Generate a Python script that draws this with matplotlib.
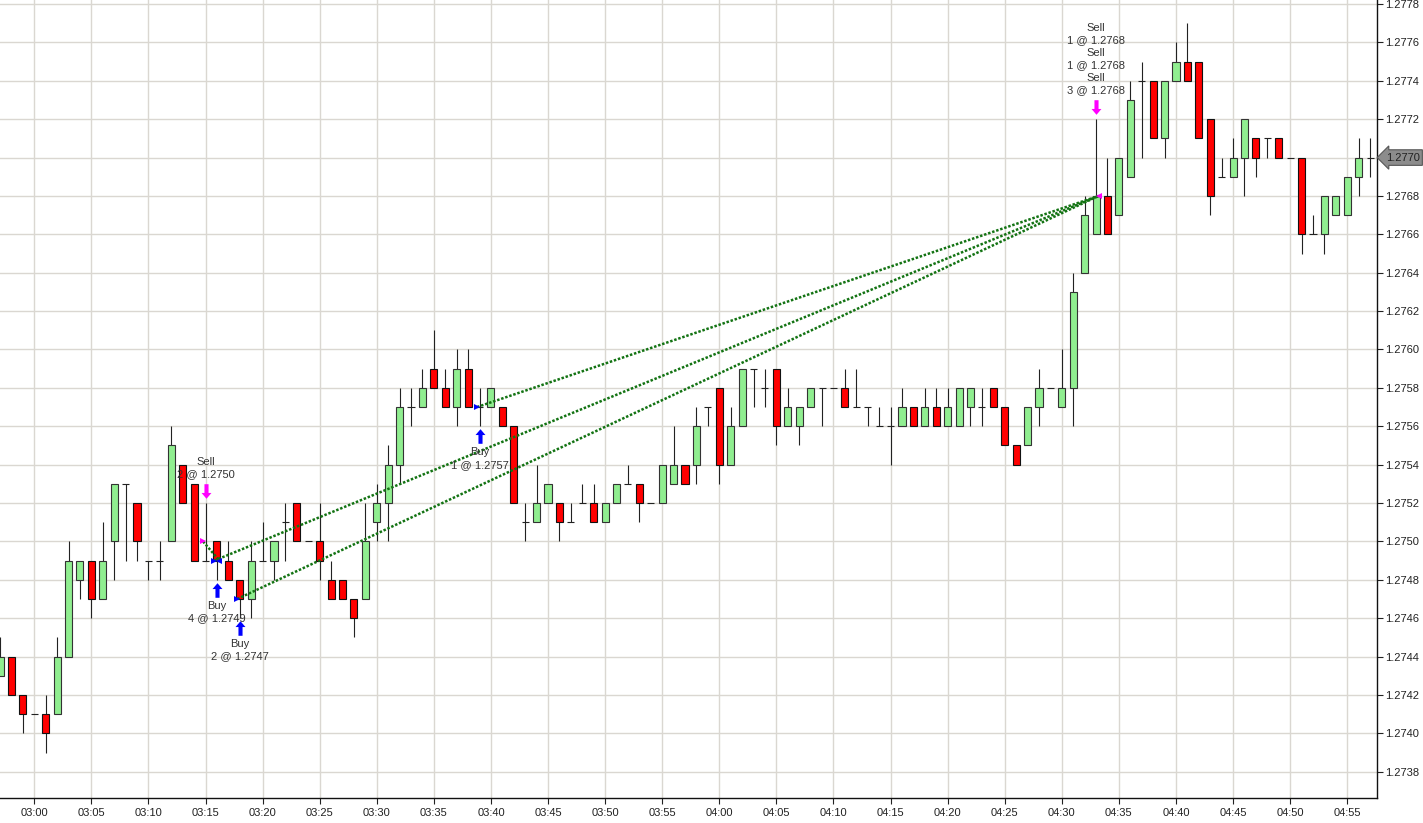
import numpy as np
import pandas as pd
import matplotlib
matplotlib.use('Agg')
import matplotlib.pyplot as plt
import matplotlib.dates as mdates
import matplotlib.transforms as mtransforms
from matplotlib.path import Path

plt.rcParams['font.family'] = ['Liberation Sans', 'DejaVu Sans']
plt.rcParams['font.size'] = 8

# 1-minute bars 02:57 .. 04:57
times = pd.date_range('2012-06-01 02:57', '2012-06-01 04:57', freq='1min')

opens = [1.2743, 1.2744, 1.2742, 1.2741, 1.2741, 1.2741, 1.2744, 1.2748, 1.2749, 1.2747,
         1.2750, 1.2753, 1.2752, 1.2749, 1.2749, 1.2750, 1.2754, 1.2753, 1.2749, 1.2750,
         1.2749, 1.2748, 1.2747, 1.2749, 1.2749, 1.2751, 1.2752, 1.2750, 1.2750, 1.2748,
         1.2748, 1.2747, 1.2747, 1.2751, 1.2752, 1.2754, 1.2757, 1.2757, 1.2759, 1.2758,
         1.2757, 1.2759, 1.2757, 1.2757, 1.2757, 1.2756, 1.2751, 1.2751, 1.2752, 1.2752,
         1.2751, 1.2752, 1.2752, 1.2751, 1.2752, 1.2753, 1.2753, 1.2752, 1.2752, 1.2753,
         1.2754, 1.2754, 1.2757, 1.2758, 1.2754, 1.2756, 1.2759, 1.2758, 1.2759, 1.2756,
         1.2756, 1.2757, 1.2758, 1.2758, 1.2758, 1.2757, 1.2757, 1.2756, 1.2756, 1.2756,
         1.2757, 1.2756, 1.2757, 1.2756, 1.2756, 1.2757, 1.2757, 1.2758, 1.2757, 1.2755,
         1.2755, 1.2757, 1.2758, 1.2757, 1.2758, 1.2764, 1.2766, 1.2768, 1.2767, 1.2769,
         1.2774, 1.2774, 1.2771, 1.2774, 1.2775, 1.2775, 1.2772, 1.2769, 1.2769, 1.2770,
         1.2771, 1.2771, 1.2771, 1.2770, 1.2770, 1.2766, 1.2766, 1.2767, 1.2767, 1.2769,
         1.2770]
highs = [1.2745, 1.2744, 1.2742, 1.2741, 1.2742, 1.2745, 1.2750, 1.2749, 1.2749, 1.2751,
         1.2753, 1.2753, 1.2752, 1.2749, 1.2750, 1.2756, 1.2754, 1.2753, 1.2752, 1.2750,
         1.2750, 1.2748, 1.2750, 1.2751, 1.2750, 1.2752, 1.2752, 1.2750, 1.2752, 1.2749,
         1.2748, 1.2747, 1.2752, 1.2753, 1.2755, 1.2758, 1.2758, 1.2759, 1.2761, 1.2759,
         1.2760, 1.2760, 1.2758, 1.2758, 1.2757, 1.2756, 1.2752, 1.2754, 1.2753, 1.2752,
         1.2752, 1.2753, 1.2753, 1.2752, 1.2753, 1.2754, 1.2753, 1.2752, 1.2754, 1.2756,
         1.2754, 1.2757, 1.2757, 1.2758, 1.2757, 1.2759, 1.2759, 1.2759, 1.2759, 1.2758,
         1.2757, 1.2758, 1.2758, 1.2758, 1.2759, 1.2759, 1.2757, 1.2757, 1.2757, 1.2758,
         1.2757, 1.2758, 1.2758, 1.2758, 1.2758, 1.2758, 1.2758, 1.2758, 1.2757, 1.2755,
         1.2757, 1.2759, 1.2758, 1.2760, 1.2764, 1.2768, 1.2772, 1.2770, 1.2770, 1.2774,
         1.2775, 1.2774, 1.2774, 1.2776, 1.2777, 1.2775, 1.2772, 1.2770, 1.2771, 1.2772,
         1.2771, 1.2771, 1.2771, 1.2770, 1.2770, 1.2767, 1.2768, 1.2768, 1.2769, 1.2771,
         1.2771]
lows = [1.2743, 1.2742, 1.2740, 1.2741, 1.2739, 1.2741, 1.2744, 1.2747, 1.2746, 1.2747,
        1.2748, 1.2749, 1.2749, 1.2748, 1.2748, 1.2750, 1.2752, 1.2749, 1.2749, 1.2748,
        1.2748, 1.2746, 1.2746, 1.2749, 1.2748, 1.2749, 1.2750, 1.2750, 1.2748, 1.2747,
        1.2747, 1.2745, 1.2747, 1.2750, 1.2750, 1.2753, 1.2756, 1.2757, 1.2758, 1.2757,
        1.2756, 1.2757, 1.2756, 1.2757, 1.2756, 1.2752, 1.2750, 1.2751, 1.2752, 1.2750,
        1.2751, 1.2752, 1.2751, 1.2751, 1.2752, 1.2753, 1.2751, 1.2752, 1.2752, 1.2753,
        1.2753, 1.2753, 1.2756, 1.2753, 1.2754, 1.2756, 1.2757, 1.2757, 1.2755, 1.2756,
        1.2755, 1.2757, 1.2756, 1.2758, 1.2757, 1.2757, 1.2756, 1.2756, 1.2754, 1.2756,
        1.2756, 1.2756, 1.2756, 1.2756, 1.2756, 1.2756, 1.2756, 1.2757, 1.2755, 1.2754,
        1.2755, 1.2756, 1.2758, 1.2757, 1.2756, 1.2764, 1.2766, 1.2766, 1.2767, 1.2769,
        1.2770, 1.2771, 1.2770, 1.2774, 1.2774, 1.2771, 1.2767, 1.2769, 1.2769, 1.2768,
        1.2769, 1.2770, 1.2770, 1.2770, 1.2765, 1.2766, 1.2765, 1.2767, 1.2767, 1.2768,
        1.2769]
closes = [1.2744, 1.2742, 1.2741, 1.2741, 1.2740, 1.2744, 1.2749, 1.2749, 1.2747, 1.2749,
          1.2753, 1.2753, 1.2750, 1.2749, 1.2749, 1.2755, 1.2752, 1.2749, 1.2749, 1.2749,
          1.2748, 1.2747, 1.2749, 1.2749, 1.2750, 1.2751, 1.2750, 1.2750, 1.2749, 1.2747,
          1.2747, 1.2746, 1.2750, 1.2752, 1.2754, 1.2757, 1.2757, 1.2758, 1.2758, 1.2757,
          1.2759, 1.2757, 1.2757, 1.2758, 1.2756, 1.2752, 1.2751, 1.2752, 1.2753, 1.2751,
          1.2751, 1.2752, 1.2751, 1.2752, 1.2753, 1.2753, 1.2752, 1.2752, 1.2754, 1.2754,
          1.2753, 1.2756, 1.2757, 1.2754, 1.2756, 1.2759, 1.2759, 1.2758, 1.2756, 1.2757,
          1.2757, 1.2758, 1.2758, 1.2758, 1.2757, 1.2757, 1.2757, 1.2756, 1.2756, 1.2757,
          1.2756, 1.2757, 1.2756, 1.2757, 1.2758, 1.2758, 1.2757, 1.2757, 1.2755, 1.2754,
          1.2757, 1.2758, 1.2758, 1.2758, 1.2763, 1.2767, 1.2768, 1.2766, 1.2770, 1.2773,
          1.2774, 1.2771, 1.2774, 1.2775, 1.2774, 1.2771, 1.2768, 1.2769, 1.2770, 1.2772,
          1.2770, 1.2771, 1.2770, 1.2770, 1.2766, 1.2766, 1.2768, 1.2768, 1.2769, 1.2770,
          1.2770]

# executions
trade_time = ['03:15', '03:16', '03:18', '03:39', '04:33']
trade_side = ['sell', 'buy', 'buy', 'buy', 'sell']
trade_price = [1.2750, 1.2749, 1.2747, 1.2757, 1.2768]
trade_text = ['Sell\n2 @ 1.2750', 'Buy\n4 @ 1.2749', 'Buy\n2 @ 1.2747', 'Buy\n1 @ 1.2757',
              'Sell\n1 @ 1.2768\nSell\n1 @ 1.2768\nSell\n3 @ 1.2768']
# entry -> exit pairs (index into trades)
trade_pairs = [(0, 1), (1, 4), (2, 4), (3, 4)]

last_price = 1.2770
y_ticks = [1.2738, 1.2740, 1.2742, 1.2744, 1.2746, 1.2748, 1.2750, 1.2752, 1.2754, 1.2756,
           1.2758, 1.2760, 1.2762, 1.2764, 1.2766, 1.2768, 1.2770, 1.2772, 1.2774, 1.2776, 1.2778]

W, H = 1423, 823
fig = plt.figure(figsize=(W / 100, H / 100), dpi=100)
ax = fig.add_axes([0, 1 - 798 / H, 1376.7 / W, 798 / H])

x = mdates.date2num(times)
o = np.array(opens); h = np.array(highs); l = np.array(lows); c = np.array(closes)
one_min = 1 / 1440.0
bw = 0.62 * one_min

up = c > o
dn = c < o
eq = c == o
ax.vlines(x, l, h, color='#222222', lw=0.8, zorder=2)
ax.bar(x[up], c[up] - o[up], bw, bottom=o[up], color='#90ee90', edgecolor='#333333', lw=0.8, zorder=3)
ax.bar(x[dn], o[dn] - c[dn], bw, bottom=c[dn], color='#ff0000', edgecolor='#111111', lw=0.8, zorder=3)
ax.hlines(c[eq], x[eq] - bw / 2, x[eq] + bw / 2, color='#222222', lw=0.8, zorder=3)

# arrow markers
up_arrow = Path([(0, 1), (0.68, 0.2), (0.28, 0.2), (0.28, -1), (-0.28, -1), (-0.28, 0.2),
                 (-0.68, 0.2), (0, 1)], closed=True)
down_arrow = Path([(0, -1), (0.68, -0.2), (0.28, -0.2), (0.28, 1), (-0.28, 1), (-0.28, -0.2),
                   (-0.68, -0.2), (0, -1)], closed=True)

# trades
t_idx = [list(times.strftime('%H:%M')).index(t) for t in trade_time]
tx = x[t_idx]
entry_x = tx - 0.22 * one_min
exit_x = tx + 0.22 * one_min
for a, b in trade_pairs:
    ax.plot([entry_x[a], exit_x[b]], [trade_price[a], trade_price[b]],
            color='#137313', lw=1.8, ls=(0, (1, 0.7)), zorder=4)

col = {'buy': '#0000ff', 'sell': '#ff00ff'}
entries = set(a for a, b in trade_pairs)
exits = set(b for a, b in trade_pairs)
for k in range(len(trade_time)):
    cc = col[trade_side[k]]
    if k in entries:
        ax.plot(entry_x[k], trade_price[k], marker='>', color=cc, ms=5, mew=0, zorder=5)
    if k in exits:
        ax.plot(exit_x[k], trade_price[k], marker='<', color=cc, ms=5, mew=0, zorder=5)
    i = t_idx[k]
    if trade_side[k] == 'buy':
        tr = mtransforms.offset_copy(ax.transData, fig=fig, x=0, y=-10, units='dots')
        ax.plot(x[i], l[i], marker=up_arrow, ms=10.5, color=cc, mew=0, transform=tr, zorder=5)
        ax.annotate(trade_text[k], xy=(x[i], l[i]), xytext=(0, -21), textcoords='offset pixels',
                    ha='center', va='top', color='#333333', linespacing=1.3, zorder=6)
    else:
        tr = mtransforms.offset_copy(ax.transData, fig=fig, x=0, y=12, units='dots')
        ax.plot(x[i], h[i], marker=down_arrow, ms=10.5, color=cc, mew=0, transform=tr, zorder=5)
        ax.annotate(trade_text[k], xy=(x[i], h[i]), xytext=(0, 24), textcoords='offset pixels',
                    ha='center', va='bottom', color='#333333', linespacing=1.3, zorder=6)

# axes styling
ax.set_xlim(x[0], x[0] + 120.58 * one_min)
ax.set_ylim(1.273663, 1.277821)
ax.xaxis.set_major_locator(mdates.MinuteLocator(byminute=range(0, 60, 5)))
ax.xaxis.set_major_formatter(mdates.DateFormatter('%H:%M'))
ax.yaxis.tick_right()
ax.set_yticks(y_ticks)
ax.set_yticklabels(['' if v == last_price else '%.4f' % v for v in y_ticks])
ax.tick_params(axis='both', length=4, width=0.8, color='#222222', labelcolor='#222222', labelsize=8)
ax.tick_params(axis='x', pad=3)
ax.tick_params(axis='y', pad=2)
for s in ['left', 'top']:
    ax.spines[s].set_visible(False)
for s in ['right', 'bottom']:
    ax.spines[s].set_color('#111111')
    ax.spines[s].set_linewidth(1)
ax.grid(True, color='#dad7d1', lw=1)
ax.set_axisbelow(True)

# last price tag
ax.annotate('%.4f' % last_price, xy=(1.0, last_price),
            xycoords=mtransforms.blended_transform_factory(ax.transAxes, ax.transData),
            xytext=(9, 0), textcoords='offset pixels',
            ha='left', va='center', fontsize=8, color='#222222', zorder=10, annotation_clip=False,
            bbox=dict(boxstyle='larrow,pad=0.25', fc='#8c8c8c', ec='#555555', lw=0.8))

fig.savefig('out.png', dpi=100, facecolor='white')
